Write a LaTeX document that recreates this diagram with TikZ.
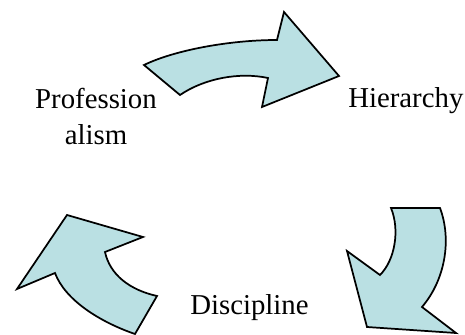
\documentclass[tikz,border=0pt]{standalone}
\usepackage{fontspec}
\setmainfont{Liberation Serif}
\usepackage{tikz}
\definecolor{arrowfill}{HTML}{BAE0E3}
\tikzset{
  bigarrow/.style={draw=black,fill=arrowfill,line width=1.3pt,line join=miter},
  word/.style={font=\fontsize{21.6}{27}\selectfont,inner sep=0pt,text=black,align=center},
}

\begin{document}
\begin{tikzpicture}[x=0.75pt,y=-0.75pt]
\useasboundingbox (0,0) rectangle (465,335);
% seta de cima
\draw[bigarrow] (144,65) .. controls (175,50) and (230,40) .. (277,40)
  -- (284,12) -- (339,76) -- (262,107) -- (268,78)
  .. controls (240,72) and (205,78) .. (180,95) -- cycle;
% seta da direita
\draw[bigarrow] (391,208) -- (440,208)
  .. controls (452,240) and (445,280) .. (422,307)
  -- (456,333) -- (367,327) -- (347,251) -- (380,275)
  .. controls (395,260) and (400,230) .. (391,208) -- cycle;
% seta da esquerda
\draw[bigarrow] (135,334) -- (157,296)
  .. controls (130,290) and (110,275) .. (105,252)
  -- (143,237) -- (67,215) -- (17,289) -- (55,273)
  .. controls (65,300) and (100,322) .. (135,334) -- cycle;
% rotulos
\node[word,anchor=base] (prof) at (96,145) {Profession\\alism};
\node[word,anchor=base west] (hier) at (348,108) {Hierarchy};
\node[word,anchor=base west] (disc) at (190,315) {Discipline};
\end{tikzpicture}
\end{document}
